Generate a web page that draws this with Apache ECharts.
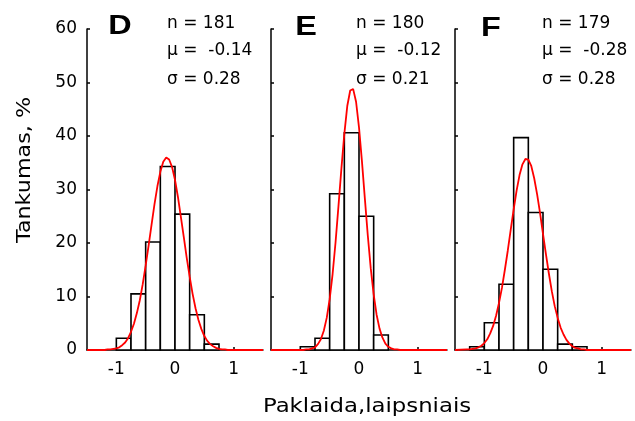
<!DOCTYPE html>
<html>
<head>
<meta charset="utf-8">
<script src="https://cdn.jsdelivr.net/npm/echarts@6/dist/echarts.min.js"></script>
<style>
html,body{margin:0;padding:0;background:#fff;}
#chart{width:635px;height:421px;}
</style>
</head>
<body>
<div id="chart"></div>
<script>
// ---- data ----
const panelLetters = ['D', 'E', 'F'];
const nValues = ['181', '180', '179'];
const muValues = ['-0.14', '-0.12', '-0.28'];
const sigmaValues = ['0.28', '0.21', '0.28'];

const binWidth = 0.25;
const binsD = [-1, -0.75, -0.5, -0.25, 0, 0.25, 0.5];
const pctD = [2.2, 10.5, 20.2, 34.3, 25.4, 6.6, 1.1];
const binsE = [-1, -0.75, -0.5, -0.25, 0, 0.25];
const pctE = [0.6, 2.2, 29.2, 40.6, 25.0, 2.8];
const binsF = [-1.25, -1, -0.75, -0.5, -0.25, 0, 0.25, 0.5];
const pctF = [0.6, 5.1, 12.3, 39.7, 25.7, 15.1, 1.1, 0.6];

const curveX = [-1.5, -1.3, -1.25, -1.2, -1.15, -1.1, -1.05, -1.0, -0.95, -0.9, -0.85, -0.8,
  -0.75, -0.7, -0.65, -0.6, -0.55, -0.5, -0.45, -0.4, -0.35, -0.3, -0.25, -0.2,
  -0.15, -0.1, -0.05, 0, 0.05, 0.1, 0.15, 0.2, 0.25, 0.3, 0.35, 0.4,
  0.45, 0.5, 0.55, 0.6, 0.65, 0.7, 0.75, 0.8, 0.85, 0.9, 1.5];
const curveD = [0, 0, 0, 0, 0.1, 0.1, 0.2, 0.3, 0.5, 0.9, 1.4, 2.2,
  3.4, 4.9, 6.9, 9.3, 12.3, 15.8, 19.5, 23.4, 27.2, 30.6, 33.3, 35.2,
  36.0, 35.6, 34.2, 31.8, 28.6, 24.9, 21.1, 17.2, 13.7, 10.5, 7.8, 5.6,
  3.9, 2.6, 1.7, 1.1, 0.7, 0.4, 0.2, 0.1, 0.1, 0, 0];
const curveE = [0, 0, 0, 0, 0, 0, 0, 0, 0, 0.1, 0.1, 0.3,
  0.5, 1.1, 2.0, 3.6, 6.0, 9.5, 14.2, 20.1, 26.9, 33.9, 40.4, 45.6,
  48.5, 48.8, 46.4, 41.6, 35.3, 28.3, 21.4, 15.3, 10.4, 6.6, 4.0, 2.3,
  1.2, 0.6, 0.3, 0.1, 0.1, 0, 0, 0, 0, 0, 0];
const curveF = [0, 0.1, 0.1, 0.2, 0.3, 0.5, 0.8, 1.3, 2.0, 3.1, 4.5, 6.4,
  8.8, 11.6, 15.0, 18.6, 22.5, 26.3, 29.8, 32.7, 34.7, 35.7, 35.6, 34.4,
  32.1, 29.1, 25.6, 21.7, 17.9, 14.3, 11.0, 8.2, 6.0, 4.2, 2.9, 1.9,
  1.2, 0.7, 0.4, 0.3, 0.1, 0.1, 0, 0, 0, 0, 0];

const xTicks = [-1, 0, 1];
const yTitle = 'Tankumas, %';
const xTitle = 'Paklaida,laipsniais';

// ---- layout ----
const gridLefts = [87, 271, 455];
const gridTop = 29, gridW = 176, gridH = 321;
const letterPos = [[120, 27], [306, 28], [491, 29]];
const annotLeft = [167, 356, 542];
const annotY = [23.5, 51, 79.5];

const bins = [binsD, binsE, binsF];
const pcts = [pctD, pctE, pctF];
const curves = [curveD, curveE, curveF];

const chart = echarts.init(document.getElementById('chart'), null, {renderer: 'canvas'});

const grids = gridLefts.map(l => ({left: l, top: gridTop, width: gridW, height: gridH}));

const xAxes = [0, 1, 2].map(i => ({
  gridIndex: i, type: 'value', min: -1.5, max: 1.5,
  splitLine: {show: false},
  axisLine: {show: true, onZero: false, lineStyle: {color: '#000', width: 1.5}},
  axisTick: {show: true, inside: true, length: 3, customValues: xTicks, lineStyle: {color: '#000', width: 1.5}},
  axisLabel: {show: true, customValues: xTicks, margin: 11, color: '#000',
    fontFamily: 'DejaVu Sans', fontSize: 17, formatter: v => String(v)}
}));

const yAxes = [0, 1, 2].map(i => ({
  gridIndex: i, type: 'value', min: 0, max: 60, interval: 10,
  splitLine: {show: false},
  axisLine: {show: true, onZero: false, lineStyle: {color: '#000', width: 1.5}},
  axisTick: {show: true, inside: true, length: 3, lineStyle: {color: '#000', width: 1.5}},
  axisLabel: {show: i === 0, margin: 10, color: '#000', fontFamily: 'DejaVu Sans', fontSize: 17}
}));

const series = [];
[0, 1, 2].forEach(i => {
  series.push({
    type: 'custom', xAxisIndex: i, yAxisIndex: i, z: 2,
    data: bins[i].map((b, j) => [b, b + binWidth, pcts[i][j]]),
    encode: {x: [0, 1], y: 2},
    renderItem: (params, api) => {
      const p0 = api.coord([api.value(0), api.value(2)]);
      const p1 = api.coord([api.value(1), 0]);
      return {
        type: 'rect',
        shape: {x: p0[0], y: p0[1], width: p1[0] - p0[0], height: p1[1] - p0[1]},
        style: {fill: '#fff', stroke: '#000', lineWidth: 1.6}
      };
    }
  });
  series.push({
    type: 'line', xAxisIndex: i, yAxisIndex: i, z: 3,
    data: curveX.map((x, j) => [x, curves[i][j]]),
    showSymbol: false, symbol: 'none',
    lineStyle: {color: '#ff0000', width: 1.8},
    silent: true
  });
});

const graphics = [];
graphics.push({
  type: 'text', x: 25, y: 170, rotation: Math.PI / 2, scaleX: 1.17,
  style: {text: yTitle, font: '19px "DejaVu Sans"', fill: '#000',
    align: 'center', verticalAlign: 'middle', textAlign: 'center', textVerticalAlign: 'middle'}
});
graphics.push({
  type: 'text', x: 367, y: 407, scaleX: 1.2,
  style: {text: xTitle, font: '19px "DejaVu Sans"', fill: '#000',
    align: 'center', verticalAlign: 'middle', textAlign: 'center', textVerticalAlign: 'middle'}
});
[0, 1, 2].forEach(i => {
  graphics.push({
    type: 'text', x: letterPos[i][0], y: letterPos[i][1], scaleX: 1.2,
    style: {text: panelLetters[i], font: 'bold 27px "Liberation Sans"', fill: '#000',
      align: 'center', verticalAlign: 'middle', textAlign: 'center', textVerticalAlign: 'middle'}
  });
  const lines = ['n = ' + nValues[i], 'μ =  ' + muValues[i], 'σ = ' + sigmaValues[i]];
  lines.forEach((t, k) => {
    graphics.push({
      type: 'text', x: annotLeft[i], y: annotY[k],
      style: {text: t, font: '17px "DejaVu Sans"', fill: '#000',
        align: 'left', verticalAlign: 'middle', textAlign: 'left', textVerticalAlign: 'middle'}
    });
  });
});

chart.setOption({
  animation: false,
  backgroundColor: '#fff',
  grid: grids,
  xAxis: xAxes,
  yAxis: yAxes,
  series: series,
  graphic: graphics
});
</script>
</body>
</html>
